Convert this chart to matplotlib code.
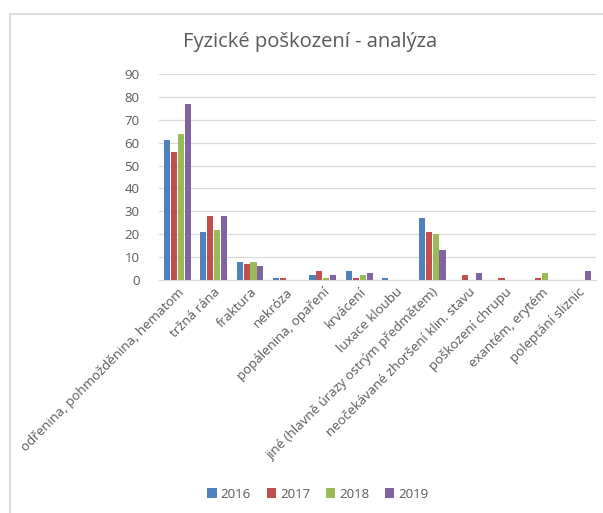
import matplotlib
matplotlib.use('Agg')
import matplotlib.pyplot as plt
import numpy as np
from matplotlib.patches import Rectangle

categories = [
    'odřenina, pohmožděnina, hematom',
    'tržná rána',
    'fraktura',
    'nekróza',
    'popálenina, opaření',
    'krvácení',
    'luxace kloubu',
    'jiné (hlavně úrazy ostrým předmětem)',
    'neočekávané zhoršení klin. stavu',
    'poškození chrupu',
    'exantém, erytém',
    'poleptání sliznic',
]
years = ['2016', '2017', '2018', '2019']
v2016 = [61, 21, 8, 1, 2, 4, 1, 27, 0, 0, 0, 0]
v2017 = [56, 28, 7, 1, 4, 1, 0, 21, 2, 1, 1, 0]
v2018 = [64, 22, 8, 0, 1, 2, 0, 20, 0, 0, 3, 0]
v2019 = [77, 28, 6, 0, 2, 3, 0, 13, 3, 0, 0, 4]
series = [v2016, v2017, v2018, v2019]
colors = ['#4f81bd', '#c0504d', '#9bbb59', '#8064a2']

plt.rcParams['font.family'] = ['Open Sans', 'DejaVu Sans']
text_color = '#595959'

fig = plt.figure(figsize=(6.03, 5.13), dpi=100)
ax = fig.add_axes([159 / 603, 1 - 280 / 513, 437 / 603, 206 / 513])

x = np.arange(len(categories))
width = 0.165
for i, (vals, col, yr) in enumerate(zip(series, colors, years)):
    ax.bar(x + (i - 1.5) * (width + 0.025), vals, width, color=col, label=yr, zorder=3)

ax.set_xlim(-0.5, len(categories) - 0.5)
ax.set_ylim(0, 90)
ax.set_yticks(range(0, 91, 10))
ax.yaxis.grid(True, color='#d9d9d9', linewidth=0.9, zorder=0)
ax.tick_params(axis='y', length=0, labelsize=9.5, colors=text_color, pad=14)
ax.tick_params(axis='x', length=0, labelsize=9.5, colors=text_color, pad=4)
ax.set_xticks(x)
ax.set_xticklabels(categories, rotation=45, ha='right', rotation_mode='anchor')
for side in ['top', 'right', 'left']:
    ax.spines[side].set_visible(False)
ax.spines['bottom'].set_color('#d9d9d9')

fig.text(310 / 603, 1 - 42 / 513, 'Fyzické poškození - analýza', ha='center', va='center',
         fontsize=14.5, color=text_color)

fig.legend(loc='center', bbox_to_anchor=(318 / 603, 1 - 494 / 513), ncol=4, frameon=False,
           fontsize=9.5, labelcolor=text_color, handlelength=0.7, handleheight=0.7,
           handletextpad=0.3, columnspacing=1.2)

# chart border (only top and left edges fall inside the crop)
fig.patches.append(Rectangle((9.5 / 603, -0.1), 1.2, 1 - 13.5 / 513 + 0.1, transform=fig.transFigure,
                             fill=False, edgecolor='#d9d9d9', linewidth=1.2))

fig.savefig('out.png', dpi=100)
